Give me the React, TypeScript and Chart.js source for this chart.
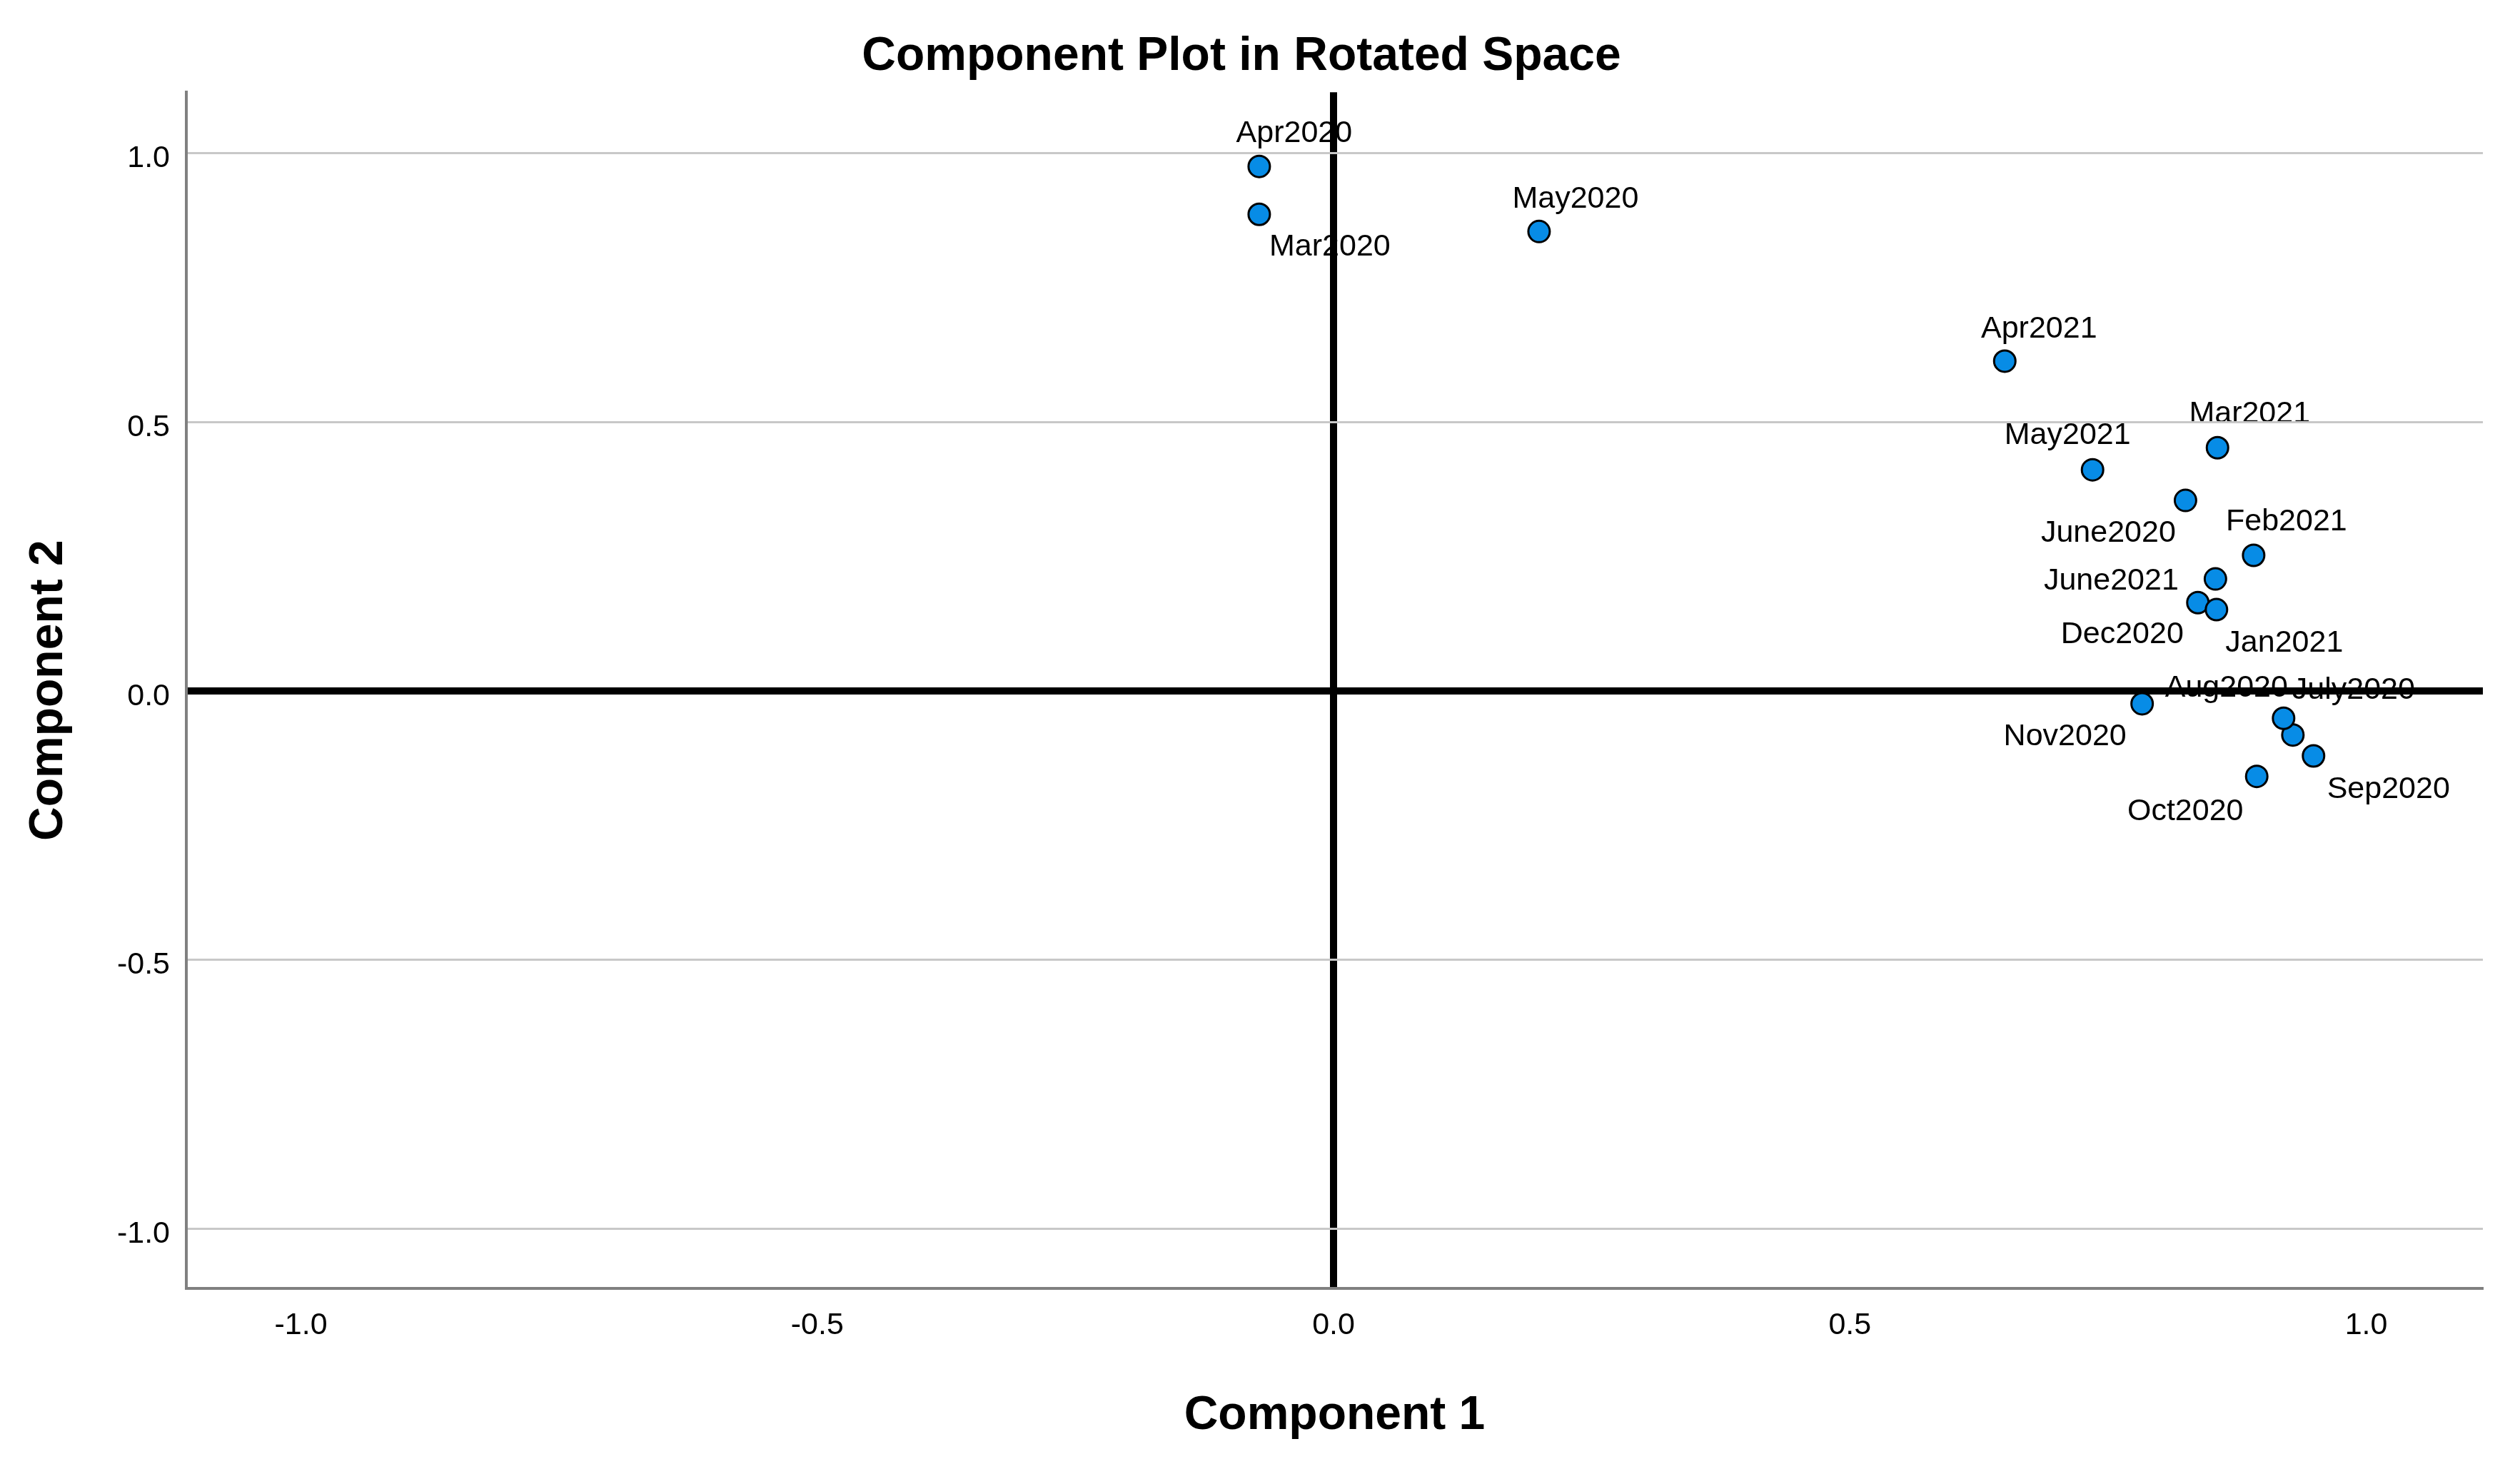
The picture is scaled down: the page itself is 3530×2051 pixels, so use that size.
import React, { useEffect, useRef } from 'react';
import { Chart, registerables } from 'chart.js';

Chart.register(...registerables);

// ---- Data ----
const monthLabels = [
  'Mar2020', 'Apr2020', 'May2020', 'June2020', 'July2020', 'Aug2020', 'Sep2020', 'Oct2020',
  'Nov2020', 'Dec2020', 'Jan2021', 'Feb2021', 'Mar2021', 'Apr2021', 'May2021', 'June2021',
];
const component1 = [
  -0.072, -0.072, 0.199, 0.825, 0.929, 0.920, 0.949, 0.894,
  0.783, 0.837, 0.855, 0.891, 0.856, 0.650, 0.735, 0.854,
];
const component2 = [
  0.886, 0.975, 0.854, 0.354, -0.082, -0.051, -0.121, -0.159,
  -0.024, 0.164, 0.151, 0.252, 0.452, 0.613, 0.411, 0.208,
];
const axisMin = [-1.111, -1.111]; // [x, y]
const axisMax = [1.113, 1.113];
const tickStep = 0.5;

const chartTitle = 'Component Plot in Rotated Space';
const xTitle = 'Component 1';
const yTitle = 'Component 2';

// ---- Styling / label layout (pixel offsets of each label from its point) ----
const labelOffsets: [number, number][] = [
  [99, 58], [49, -34], [51, -33], [-108, 58], [85, -51], [-80, -30], [105, 59], [-100, 61],
  [-108, 58], [-106, 57], [95, 59], [46, -35], [45, -35], [48, -33], [-35, -36], [-146, 15],
];

const FONT = '"Liberation Sans", Arial, Helvetica, sans-serif';

const pointLabelPlugin = {
  id: 'pointLabelPlugin',
  beforeDraw(chart: any) {
    const meta = chart.getDatasetMeta(0);
    const ctx = chart.ctx;
    ctx.save();
    ctx.font = `43px ${FONT}`;
    ctx.fillStyle = '#000000';
    ctx.textAlign = 'center';
    ctx.textBaseline = 'alphabetic';
    meta.data.forEach((pt: any, i: number) => {
      const off = labelOffsets[i] || [0, 0];
      ctx.fillText(monthLabels[i], pt.x + off[0], pt.y + off[1]);
    });
    ctx.restore();
  },
};

export default function App() {
  const canvasRef = useRef<HTMLCanvasElement | null>(null);

  useEffect(() => {
    document.body.style.margin = '0';
    const canvas = canvasRef.current;
    if (!canvas) return;
    const points = component1.map((x, i) => ({ x, y: component2[i] }));

    const chart = new Chart(canvas, {
      type: 'scatter',
      data: {
        datasets: [
          {
            label: 'Components',
            data: points,
            backgroundColor: '#078CE6',
            borderColor: '#000000',
            borderWidth: 3,
            pointRadius: 15,
            pointHoverRadius: 15,
          },
        ],
      },
      options: {
        animation: false,
        responsive: true,
        maintainAspectRatio: false,
        devicePixelRatio: 1,
        layout: { padding: { left: 0, right: 52, top: 0, bottom: 0 } },
        plugins: {
          legend: { display: false },
          tooltip: { enabled: false },
          title: {
            display: true,
            text: chartTitle,
            color: '#000000',
            font: { family: FONT, size: 66, weight: 'bold' },
            padding: { top: 40, bottom: 10 },
          },
        },
        scales: {
          x: {
            type: 'linear',
            min: axisMin[0],
            max: axisMax[0],
            afterFit: (scale: any) => {
              scale.height = 246;
            },
            ticks: {
              stepSize: tickStep,
              includeBounds: false,
              color: '#000000',
              font: { family: FONT, size: 43 },
              padding: 26,
              maxRotation: 0,
              callback: (v: any) => Number(v).toFixed(1),
            },
            grid: {
              drawTicks: false,
              color: (c: any) => (c.tick && Math.abs(c.tick.value) < 1e-9 ? '#000000' : 'rgba(0,0,0,0)'),
              lineWidth: (c: any) => (c.tick && Math.abs(c.tick.value) < 1e-9 ? 10 : 1),
            },
            border: { display: true, color: '#808080', width: 4 },
            title: {
              display: true,
              text: xTitle,
              color: '#000000',
              font: { family: FONT, size: 66, weight: 'bold' },
              padding: { top: 0, bottom: 28 },
            },
          },
          y: {
            type: 'linear',
            min: axisMin[1],
            max: axisMax[1],
            afterFit: (scale: any) => {
              scale.width = 261;
            },
            ticks: {
              stepSize: tickStep,
              includeBounds: false,
              color: '#000000',
              font: { family: FONT, size: 43 },
              padding: 23,
              labelOffset: 8,
              callback: (v: any) => Number(v).toFixed(1),
            },
            grid: {
              drawTicks: false,
              color: (c: any) => (c.tick && Math.abs(c.tick.value) < 1e-9 ? '#000000' : '#c8c8c8'),
              lineWidth: (c: any) => (c.tick && Math.abs(c.tick.value) < 1e-9 ? 10 : 3),
            },
            border: { display: true, color: '#808080', width: 4 },
            title: {
              display: true,
              text: yTitle,
              color: '#000000',
              font: { family: FONT, size: 66, weight: 'bold' },
              padding: { top: 29, bottom: 0 },
            },
          },
        },
      },
      plugins: [pointLabelPlugin],
    });

    return () => {
      chart.destroy();
    };
  }, []);

  return (
    <div
      style={{
        position: 'fixed',
        left: 0,
        top: 0,
        width: '3530px',
        height: '2051px',
        background: '#ffffff',
      }}
    >
      <canvas ref={canvasRef} />
    </div>
  );
}
